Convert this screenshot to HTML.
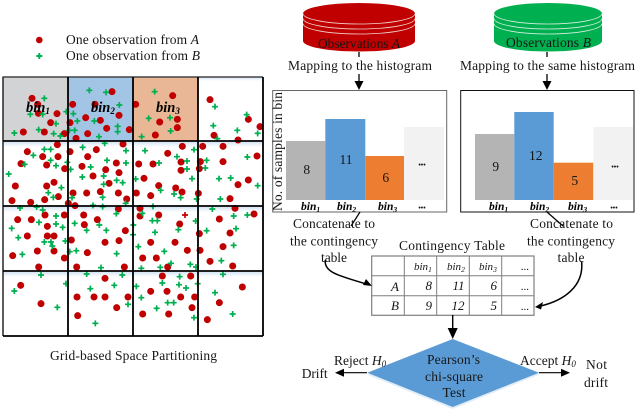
<!DOCTYPE html>
<html><head><meta charset="utf-8"><style>
html,body{margin:0;padding:0;background:#fff;width:638px;height:416px;overflow:hidden}
svg{display:block}
text{font-family:"Liberation Serif",serif;fill:#161616;font-size:13.5px}
.i{font-style:italic}
.b{font-style:italic;font-size:14.5px;font-weight:bold;fill:#000}
.s{font-size:9px;font-style:italic}
.t{font-style:italic;font-size:11px}
.v{font-style:italic;font-size:13px}
.h{font-style:italic;font-weight:bold;font-size:11.5px;fill:#000}
.h .s{font-size:7.5px}
.d{font-size:7px;font-weight:bold}
.r{fill:none;stroke:#c00000;stroke-width:21;stroke-linecap:round}
.g{fill:none;stroke:none;marker-start:url(#p);marker-mid:url(#p);marker-end:url(#p)}
</style></head><body>
<svg width="638" height="416" viewBox="0 0 638 416" xmlns="http://www.w3.org/2000/svg">
<defs>
<marker id="p" markerUnits="userSpaceOnUse" markerWidth="22" markerHeight="22" viewBox="-11 -11 22 22" refX="0" refY="0"><path d="M-9 -2.500H-3.500L-2.500 -3.500V-9H2.500V-3.500L3.500 -2.500H9V2.500H3.500L2.500 3.500V9H-2.500V3.500L-3.500 2.500H-9Z" fill="#00b050"/></marker>
<linearGradient id="gl" x1="0" y1="0" x2="0" y2="1"><stop offset="0" stop-color="#d5e4f4"/><stop offset="1" stop-color="#fff"/></linearGradient>
</defs>

<!-- legend -->
<circle cx="39.300" cy="40" r="3.300" fill="#c00000"/>
<path d="M36.300 55H38.300V53H40.300V55H42.300V57H40.300V59H38.300V57H36.300Z" fill="#00b050"/>
<text x="66" y="44" textLength="133" lengthAdjust="spacing">One observation from <tspan class="i">A</tspan></text>
<text x="66" y="60" textLength="134" lengthAdjust="spacing">One observation from <tspan class="i">B</tspan></text>

<!-- cells -->
<rect x="3" y="77" width="65" height="64" fill="#d1d3d5"/>
<rect x="68" y="77" width="65" height="64" fill="#a2c4e5"/>
<rect x="133" y="77" width="65" height="64" fill="#e9b795"/>
<g fill="url(#gl)">
<rect x="199" y="77" width="64" height="4"/>
<rect x="3" y="142" width="260" height="5"/>
<rect x="3" y="207" width="260" height="5"/>
<rect x="3" y="272" width="260" height="5"/>
</g>

<!-- points -->
<g transform="scale(.33333)">
<path class="r" d="M96 295h.1M113 313h.1M115 340h.1M171 341h.1M152 368h.1M70 396h.1M133 396h.1M193 401h.1M210 368h.1M218 313h.1M285 313h.1M336 275h.1M357 346h.1M257 353h.1M301 361h.1M320 385h.1M263 401h.1M388 389h.1M407 313h.1M518 287h.1M479 366h.1M532 358h.1M532 383h.1M466 405h.1M630 299h.1M745 358h.1M780 380h.1M642 406h.1"/>
<polyline class="g" points="133,295 91,343 128,343 168,371 43,399 116,389 161,401 181,408 199,335 220,341 232,363 208,391 224,391 268,271 318,277 358,315 283,363 353,379 353,395 297,410 464,275 446,355 510,353 512,393 425,410 645,320 740,344 640,377 712,391 773,400"/>
</g>
<g transform="translate(0,135) scale(.33333)">
<path class="r" d="M82 50h.1M128 65h.1M174 65h.1M172 29h.1M63 86h.1M140 90h.1M194 101h.1M162 142h.1M140 153h.1M46 153h.1M175 185h.1M134 194h.1M92 202h.1M36 197h.1M205 205h.1M210 50h.1M263 65h.1M289 44h.1M369 27h.1M246 94h.1M349 84h.1M317 104h.1M357 113h.1M279 123h.1M327 145h.1M301 170h.1M260 174h.1M219 174h.1M355 174h.1M380 192h.1M225 212h.1M503 55h.1M547 34h.1M416 87h.1M459 87h.1M543 81h.1M543 106h.1M601 80h.1M598 101h.1M432 130h.1M476 152h.1M527 159h.1M546 171h.1M409 174h.1M452 182h.1M595 175h.1M608 34h.1M669 34h.1M669 80h.1M714 149h.1M745 135h.1M771 63h.1M690 191h.1M228 10h.1M714 15h.1M53 254h.1M94 254h.1M135 240h.1M193 240h.1M142 274h.1M82 303h.1M142 303h.1M162 303h.1M112 348h.1M162 348h.1M38 362h.1M193 369h.1M116 396h.1M251 240h.1M292 254h.1M253 269h.1M376 287h.1M214 315h.1M315 322h.1M357 317h.1M262 353h.1M230 396h.1M373 396h.1M355 222h.1M420 220h.1M420 243h.1M476 240h.1M539 267h.1M452 322h.1M525 322h.1M562 346h.1M428 369h.1M469 369h.1M503 396h.1M598 296h.1M600 346h.1M705 220h.1M658 252h.1M762 237h.1M690 294h.1M669 335h.1M630 379h.1M698 393h.1"/>
<polyline class="g" points="133,43 152,43 100,61 152,76 74,88 168,92 26,117 202,82 184,158 145,173 160,187 248,37 314,25 378,47 321,76 378,84 212,103 272,96 247,126 311,123 350,136 368,143 311,148 216,188 308,187 377,205 435,47 531,65 582,44 477,84 561,78 561,102 407,132 576,131 482,166 522,177 542,188 590,192 620,76 616,99 742,66 657,131 692,129 773,152 661,192 652,11 60,219 110,216 128,225 168,243 117,262 168,267 188,277 35,280 55,308 133,321 153,321 157,333 196,318 67,358 224,265 298,270 260,286 319,286 209,350 229,347 350,356 349,236 303,398 279,211 308,215 427,235 459,214 457,257 472,257 400,270 465,292 535,284 587,258 399,299 415,335 493,349 513,385 481,397 424,400 571,388 588,396 637,222 701,243 742,240 620,287 708,281 701,331 664,377"/>
<path d="M546 237.500H552.500V231H557.500V237.500H564V242.500H557.500V249H552.500V242.500H546Z" fill="#c00000"/>
</g>
<g transform="translate(0,265) scale(.33333)">
<path class="r" d="M62 61h.1M123 116h.1M315 40h.1M231 96h.1M282 96h.1M315 96h.1M384 96h.1M350 128h.1M233 152h.1M487 33h.1M572 33h.1M452 79h.1M501 79h.1M542 96h.1M584 96h.1M576 128h.1M428 147h.1M506 147h.1M727 66h.1M658 113h.1M622 164h.1"/>
<polyline class="g" points="123,30 43,78 172,127 198,56 260,27 367,30 343,61 271,71 384,118 286,175 539,35 487,54 537,59 558,69 593,56 409,64 424,98 503,113 521,113 470,130 582,158 645,83 698,147 669,28"/>
</g>

<!-- grid -->
<path d="M3 77H263" stroke="#444" stroke-width="1.400" fill="none"/>
<path d="M3 76.500V336" stroke="#333" stroke-width="1.600" fill="none"/>
<path d="M68 77V336M133 77V336M198 77V336M263 77V336M3 141H263M3 206H263M3 271H263M3 336H263" stroke="#000" stroke-width="1.800" fill="none"/>

<text class="b" x="26" y="112">bin<tspan class="s" dy="2">1</tspan></text>
<text class="b" x="91" y="112">bin<tspan class="s" dy="2">2</tspan></text>
<text class="b" x="156" y="112">bin<tspan class="s" dy="2">3</tspan></text>
<text x="50" y="360" textLength="167" lengthAdjust="spacing">Grid-based Space Partitioning</text>

<!-- cylinders -->
<path d="M303 13.500A56 10.500 0 0 1 415 13.500V41A56 10.500 0 0 1 303 41Z" fill="#c00000"/>
<path d="M303 13.500A56 10.500 0 0 0 415 13.500M303 18.500A56 10.500 0 0 0 415 18.500M303 23.500A56 10.500 0 0 0 415 23.500" fill="none" stroke="#f0d4d4" stroke-width=".8"/>
<path d="M494 13.500A54 10.500 0 0 1 602 13.500V41A54 10.500 0 0 1 494 41Z" fill="#00b050"/>
<path d="M494 13.500A54 10.500 0 0 0 602 13.500M494 18.500A54 10.500 0 0 0 602 18.500M494 23.500A54 10.500 0 0 0 602 23.500" fill="none" stroke="#d4f0e0" stroke-width=".8"/>
<text x="318" y="48" textLength="82" lengthAdjust="spacing">Observations <tspan class="i">A</tspan></text>
<text x="506" y="47" textLength="85" lengthAdjust="spacing">Observations <tspan class="i">B</tspan></text>

<!-- mapping -->
<path d="M359 52V57M359 74V82M547 52V57M547 74V82" stroke="#000" stroke-width="1.300"/>
<path d="M354.500 81H363.500L359 90ZM542.500 81H551.500L547 90Z" fill="#000"/>
<text x="288" y="70" textLength="144" lengthAdjust="spacing">Mapping to the histogram</text>
<text x="460" y="70" textLength="175" lengthAdjust="spacing">Mapping to the same histogram</text>

<!-- histograms -->
<rect x="272.700" y="90.500" width="174" height="121.500" fill="#fff" stroke="#666" stroke-width="1"/>
<rect x="460.700" y="90.500" width="173.300" height="121.500" fill="#fff" stroke="#111" stroke-width="1"/>
<rect x="286" y="141" width="39.300" height="59" fill="#b4b4b4"/>
<rect x="325.300" y="119" width="40" height="81" fill="#5b9bd5"/>
<rect x="365.300" y="156" width="38.700" height="44" fill="#ed7d31"/>
<rect x="404" y="127" width="40" height="73" fill="#f2f2f2"/>
<rect x="475" y="134" width="39.300" height="66" fill="#b4b4b4"/>
<rect x="514.300" y="112" width="39.400" height="88" fill="#5b9bd5"/>
<rect x="553.700" y="162.700" width="39.600" height="37.300" fill="#ed7d31"/>
<rect x="593.300" y="127" width="39.700" height="73" fill="#f2f2f2"/>
<g text-anchor="middle">
<text x="306.700" y="174">8</text><text x="346" y="164">11</text><text x="385.700" y="182">6</text><text class="d" x="422" y="167">•••</text>
<text x="495.700" y="171">9</text><text x="535.700" y="160">12</text><text x="574.700" y="185">5</text><text class="d" x="615" y="169">•••</text>
<text class="d" x="422" y="210">•••</text><text class="d" x="614" y="210">•••</text>
</g>
<text class="h" x="301" y="210">bin<tspan class="s" dy="2">1</tspan></text>
<text class="h" x="337" y="210">bin<tspan class="s" dy="2">2</tspan></text>
<text class="h" x="378" y="210">bin<tspan class="s" dy="2">3</tspan></text>
<text class="h" x="489" y="210">bin<tspan class="s" dy="2">1</tspan></text>
<text class="h" x="530" y="210">bin<tspan class="s" dy="2">2</tspan></text>
<text class="h" x="568" y="210">bin<tspan class="s" dy="2">3</tspan></text>
<text transform="translate(282,211) rotate(-90)" textLength="119" lengthAdjust="spacing">No. of samples in bin</text>

<!-- concat -->
<path d="M360 212L351 226M547 212L563 226" stroke="#000" stroke-width="1.200" fill="none"/>
<text x="293" y="228" textLength="82" lengthAdjust="spacing">Concatenate to</text>
<text x="290" y="245.500" textLength="88" lengthAdjust="spacing">the contingency</text>
<text x="321" y="262" textLength="26" lengthAdjust="spacing">table</text>
<text x="530" y="228" textLength="83" lengthAdjust="spacing">Concatenate to</text>
<text x="527" y="245.500" textLength="88" lengthAdjust="spacing">the contingency</text>
<text x="557.500" y="262" textLength="27" lengthAdjust="spacing">table</text>

<!-- table -->
<text x="399" y="250" textLength="106" lengthAdjust="spacing">Contingency Table</text>
<rect x="371.700" y="256" width="162.300" height="59.300" fill="#fff" stroke="#7f7f7f" stroke-width="1.200"/>
<path d="M404.300 256V315M436.700 256V315M469.300 256V315M501.700 256V315M372 275.700H534M372 295.700H534" stroke="#7f7f7f" stroke-width="1"/>
<text class="t" x="414" y="270">bin<tspan class="s" dy="2" style="font-size:7.500px">1</tspan></text>
<text class="t" x="447" y="270">bin<tspan class="s" dy="2" style="font-size:7.500px">2</tspan></text>
<text class="t" x="479" y="270">bin<tspan class="s" dy="2" style="font-size:7.500px">3</tspan></text>
<g text-anchor="end">
<text class="t" x="529" y="270" style="font-style:normal">...</text>
<text class="v" x="399" y="291">A</text><text class="v" x="432" y="290">8</text><text class="v" x="464.500" y="290">11</text><text class="v" x="497" y="290">6</text><text class="t" x="529" y="290" style="font-style:normal">...</text>
<text class="v" x="399" y="310">B</text><text class="v" x="432" y="310">9</text><text class="v" x="464.500" y="310">12</text><text class="v" x="497" y="310">5</text><text class="t" x="529" y="310" style="font-style:normal">...</text>
</g>

<!-- curved arrows -->
<g transform="translate(280,210) scale(.33333)" fill="none" stroke="#000" stroke-width="4.500">
<path d="M136 150C130 190 190 200 258 222"/>
<path d="M905 155C912 230 850 272 782 288"/>
</g>
<path d="M366 279L372 286L363 285Z" fill="#000"/>
<path d="M535 307L543 302L541 309.500Z" fill="#000"/>

<!-- diamond -->
<path d="M452.700 315V330" stroke="#000" stroke-width="1.400"/>
<path d="M447.700 328H457.700L452.700 339Z" fill="#000"/>
<path d="M452.700 341L539 374.700L452.700 409L367.300 374.700Z" fill="#5b9bd5" opacity=".18"/>
<path d="M452.700 339L539 372.700L452.700 407L367.300 372.700Z" fill="#5b9bd5"/>
<text x="427" y="364" textLength="53" lengthAdjust="spacing">Pearson’s</text>
<text x="425" y="381" textLength="58" lengthAdjust="spacing">chi-square</text>
<text x="442.500" y="397" textLength="23" lengthAdjust="spacing">Test</text>
<text x="334" y="365">Reject <tspan class="i">H</tspan><tspan class="s" dy="2">0</tspan></text>
<text x="520" y="365">Accept <tspan class="i">H</tspan><tspan class="s" dy="2">0</tspan></text>
<path d="M367 372.700H342M539 372.700H564" stroke="#000" stroke-width="1.200"/>
<path d="M335 372.700L344 368.700V376.700ZM570 372.700L561 368.700V376.700Z" fill="#000"/>
<text x="301.700" y="378" textLength="26" lengthAdjust="spacing">Drift</text>
<text x="586" y="369" textLength="21" lengthAdjust="spacing">Not</text>
<text x="584" y="387" textLength="24" lengthAdjust="spacing">drift</text>
</svg>
</body></html>
